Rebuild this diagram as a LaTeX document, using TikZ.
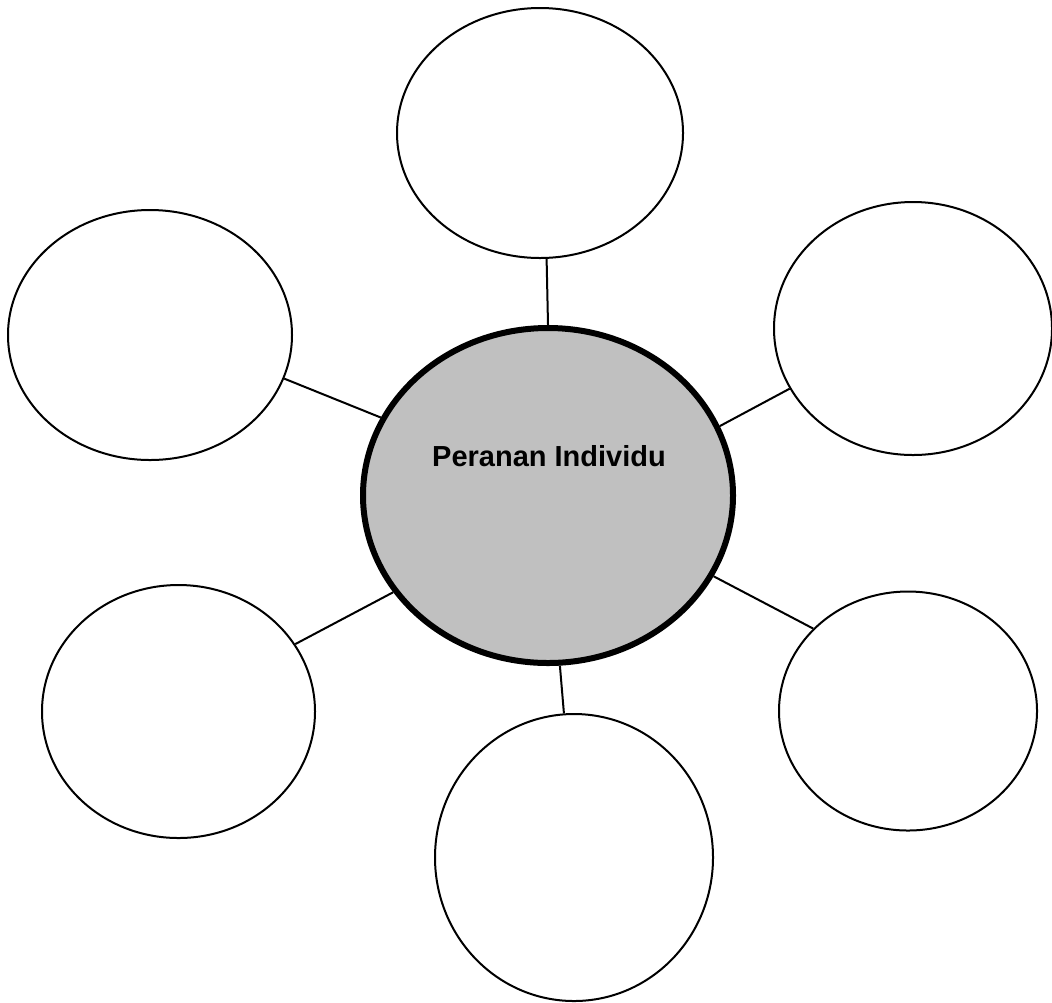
\documentclass[tikz,border=0pt]{standalone}
\usepackage{fontspec}
\setmainfont{Liberation Sans}
\usetikzlibrary{shapes.geometric}
\definecolor{hubgray}{HTML}{C0C0C0}
\tikzset{
  blob/.style={
    ellipse,
    draw=black,
    line width=1pt,
    fill=white,
    inner sep=0pt
  },
  hubblob/.style={
    ellipse,
    draw=black,
    line width=3pt,
    fill=hubgray,
    inner sep=0pt,
    minimum width=185pt,
    minimum height=167.5pt
  },
  spoke/.style={
    line width=1pt,
    draw=black
  }
}
\begin{document}
\begin{tikzpicture}[x=0.5pt,y=-0.5pt]
\useasboundingbox (0,0) rectangle (1052,1002);
\node[hubblob] (hub) at (548,495.5) {};
\node[font=\fontsize{14.5}{17}\selectfont\bfseries, anchor=base] (title) at (549,466) {Peranan Individu};
\node[blob, minimum width=143pt, minimum height=125pt] (top) at (540,133) {};
\node[blob, minimum width=142pt, minimum height=125pt] (upleft) at (150,335) {};
\node[blob, minimum width=139pt, minimum height=126.5pt] (upright) at (913,328.5) {};
\node[blob, minimum width=136.5pt, minimum height=126.5pt] (lowleft) at (178.5,711.5) {};
\node[blob, minimum width=129pt, minimum height=119.5pt] (lowright) at (908,711) {};
\node[blob, minimum width=139pt, minimum height=143.5pt] (bottom) at (574,857.5) {};
% spokes
\draw[spoke] (hub.90) -- (top.-87);
\draw[spoke] (hub.155) -- (upleft.-18);
\draw[spoke] (hub.22) -- (upright.206);
\draw[spoke] (hub.212) -- (lowleft.30);
\draw[spoke] (hub.-26) -- (lowright.139);
\draw[spoke] (hub.-86) -- (bottom.94);
\end{tikzpicture}
\end{document}
